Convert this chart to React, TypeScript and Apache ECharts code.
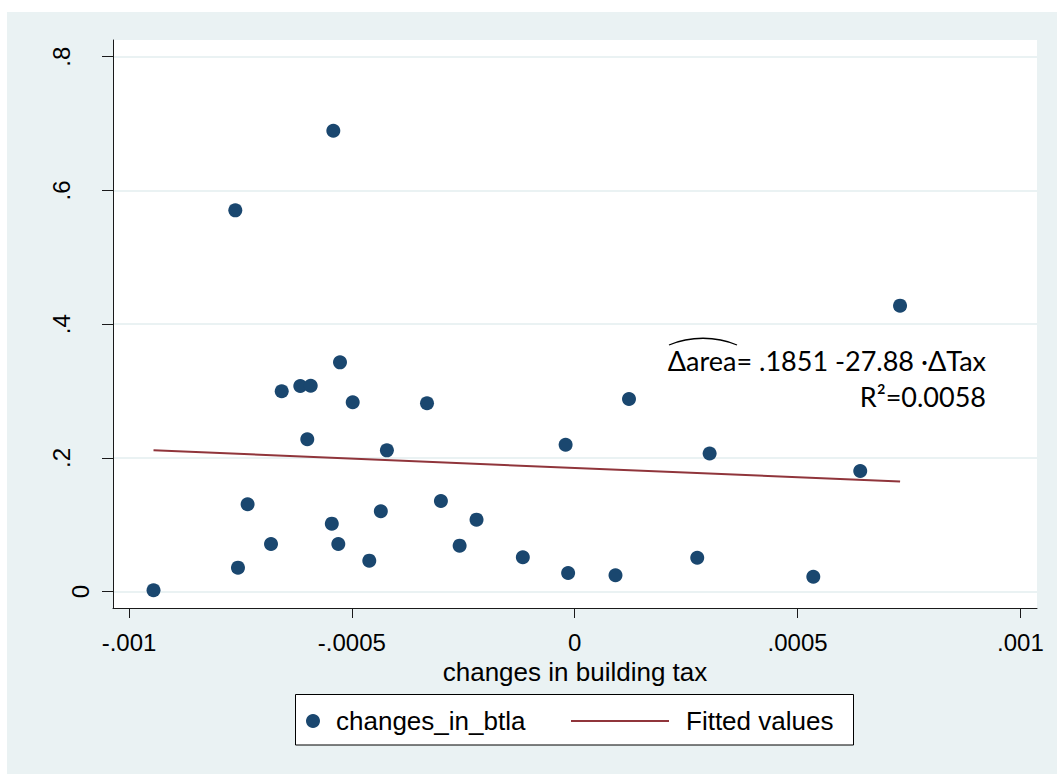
import React, { useEffect, useRef } from 'react';
import * as echarts from 'echarts';

// Data
const taxChanges = [
  -0.000945, -0.0007615, -0.0007555, -0.0007339, -0.0006814, -0.0006574, -0.0006157,
  -0.0005923, -0.0006, -0.0005416, -0.000545, -0.0005304, -0.0005266, -0.0004981,
  -0.0004609, -0.000435, -0.0004214, -0.0003314, -0.0003002, -0.0002582, -0.0002203,
  -0.0001164, -0.0000204, -0.0000148, 0.0000915, 0.0001218, 0.0002749, 0.0003027,
  0.0005353, 0.0006406, 0.0007299,
];
const areaChanges = [
  0.0021, 0.5703, 0.0359, 0.1307, 0.0713, 0.2997, 0.3076,
  0.308, 0.2279, 0.6893, 0.1017, 0.0713, 0.343, 0.2832,
  0.0464, 0.1202, 0.2114, 0.2817, 0.1356, 0.0688, 0.1077,
  0.0514, 0.2198, 0.028, 0.0245, 0.2881, 0.0508, 0.2067,
  0.0224, 0.1805, 0.4277,
];
const fittedX = [-0.000945, 0.00073];
const fittedY = [0.2114, 0.1647];
const xTicks = [-0.001, -0.0005, 0, 0.0005, 0.001];
const yTicks = [0, 0.2, 0.4, 0.6, 0.8];
const yZeroLabel = [0];
const yOtherLabels = [0.2, 0.4, 0.6, 0.8];
const seriesNames = ['changes_in_btla', 'Fitted values'];
const xTitle = 'changes in building tax';
const equationText = 'Δarea= .1851 -27.88 ·ΔTax';
const r2Text = 'R²=0.0058';

const fmt = (v: number) => (v === 0 ? '0' : String(v).replace('0.', '.'));

const SANS = "'Liberation Sans', Arial, sans-serif";
const ANNOT = "Lato, 'Open Sans', sans-serif";
const Y_MIN = -0.0244;
const Y_MAX = 0.825;

export default function App() {
  const ref = useRef<HTMLDivElement>(null);
  useEffect(() => {
    document.body.style.margin = '0';
    const chart = echarts.init(ref.current!, null, { renderer: 'svg' });
    const axisColor = '#1a1a1a';
    const yLabelBase = {
      formatter: fmt,
      rotate: 90,
      fontSize: 24,
      color: '#000',
      fontFamily: SANS,
    };
    chart.setOption({
      animation: false,
      backgroundColor: 'transparent',
      textStyle: { fontFamily: SANS },
      grid: {
        left: 113,
        right: 20,
        top: 40,
        bottom: 166,
        show: true,
        backgroundColor: '#ffffff',
        borderWidth: 0,
      },
      xAxis: {
        type: 'value',
        min: -0.0010359,
        max: 0.0010372,
        name: xTitle,
        nameLocation: 'middle',
        nameGap: 36,
        nameTextStyle: { fontSize: 26, color: '#000', fontFamily: SANS },
        axisLine: { show: true, onZero: false, lineStyle: { color: axisColor, width: 1 } },
        axisTick: { show: true, length: 10, customValues: xTicks, lineStyle: { color: axisColor } },
        axisLabel: {
          customValues: xTicks,
          formatter: fmt,
          fontSize: 24,
          color: '#000',
          margin: 22,
          fontFamily: SANS,
        },
        splitLine: { show: false },
      },
      yAxis: [
        {
          type: 'value',
          min: Y_MIN,
          max: Y_MAX,
          position: 'left',
          axisLine: { show: true, onZero: false, lineStyle: { color: axisColor, width: 1 } },
          axisTick: { show: true, length: 11, customValues: yTicks, lineStyle: { color: axisColor } },
          axisLabel: { ...yLabelBase, customValues: yZeroLabel, margin: 21 },
          splitLine: { show: true, lineStyle: { color: '#eaf2f3', width: 2 } },
        },
        {
          type: 'value',
          min: Y_MIN,
          max: Y_MAX,
          position: 'left',
          offset: 0,
          axisLine: { show: false },
          axisTick: { show: false },
          axisLabel: { ...yLabelBase, customValues: yOtherLabels, margin: 40 },
          splitLine: { show: false },
        },
      ],
      legend: [
        {
          data: [{ name: seriesNames[0], icon: 'circle' }],
          left: 306,
          top: 708,
          padding: 0,
          itemWidth: 14,
          itemHeight: 14,
          textStyle: { fontSize: 26, color: '#000', fontFamily: SANS, padding: [0, 0, 0, 11] },
        },
        {
          data: [{ name: seriesNames[1], icon: 'rect' }],
          left: 571,
          top: 708,
          padding: 0,
          itemWidth: 98,
          itemHeight: 2,
          textStyle: { fontSize: 26, color: '#000', fontFamily: SANS, padding: [0, 0, 0, 12] },
        },
      ],
      series: [
        {
          name: seriesNames[0],
          type: 'scatter',
          yAxisIndex: 0,
          data: taxChanges.map((x, i) => [x, areaChanges[i]]),
          symbol: 'circle',
          symbolSize: 14,
          itemStyle: { color: '#1a476f', opacity: 1 },
          z: 4,
        },
        {
          name: seriesNames[1],
          type: 'line',
          yAxisIndex: 0,
          data: fittedX.map((x, i) => [x, fittedY[i]]),
          symbol: 'none',
          lineStyle: { color: '#90353b', width: 2 },
          itemStyle: { color: '#90353b' },
          z: 3,
        },
      ],
      graphic: [
        {
          type: 'rect',
          z: 1,
          shape: { x: 295.5, y: 694.5, width: 558, height: 50.5 },
          style: { fill: '#ffffff', stroke: '#000', lineWidth: 1 },
        },
        {
          type: 'text',
          z: 6,
          x: 986,
          y: 360,
          style: {
            text: equationText,
            fontSize: 27,
            fontFamily: ANNOT,
            fill: '#000',
            align: 'right',
            verticalAlign: 'middle',
          },
        },
        {
          type: 'text',
          z: 6,
          x: 986,
          y: 396,
          style: {
            text: r2Text,
            fontSize: 27,
            fontFamily: ANNOT,
            fill: '#000',
            align: 'right',
            verticalAlign: 'middle',
          },
        },
        {
          type: 'bezierCurve',
          z: 6,
          shape: { x1: 669, y1: 345, x2: 737, y2: 345, cpx1: 690, cpy1: 336, cpx2: 716, cpy2: 336 },
          style: { stroke: '#000', lineWidth: 1.3, fill: null },
        },
      ],
    });
    return () => chart.dispose();
  }, []);
  return (
    <div style={{ position: 'relative', width: 1057, height: 774, background: '#fff' }}>
      <div
        style={{ position: 'absolute', left: 7, top: 12, right: 0, bottom: 0, background: '#eaf2f3' }}
      />
      <div ref={ref} style={{ position: 'absolute', left: 0, top: 0, width: 1057, height: 774 }} />
    </div>
  );
}
